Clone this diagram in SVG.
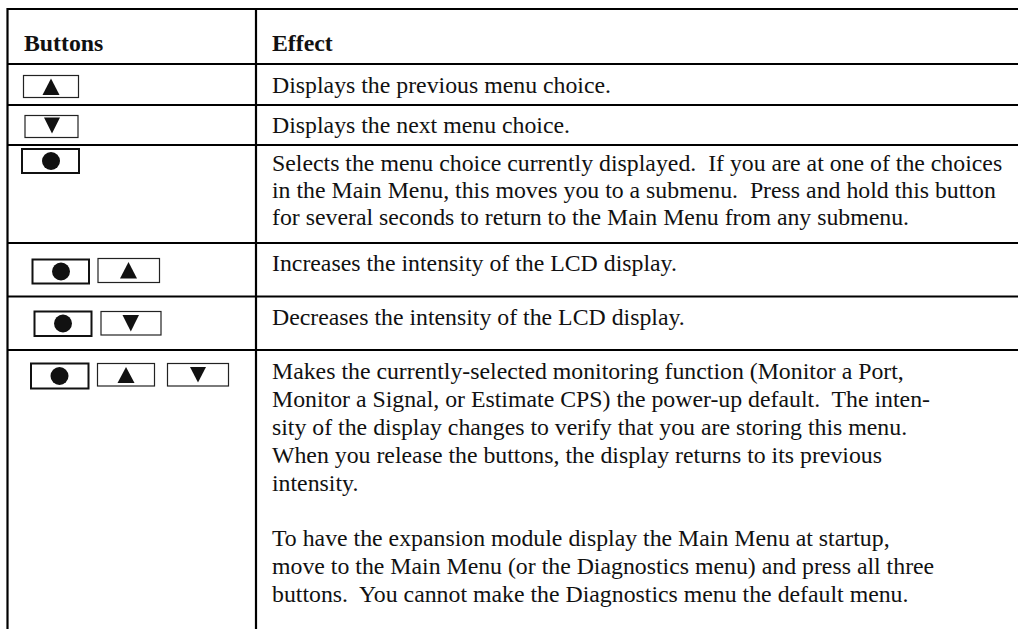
<svg xmlns="http://www.w3.org/2000/svg" width="1018" height="629" viewBox="0 0 1018 629">
<style>
.grid{stroke:#000;stroke-width:2.2;fill:none}
.btn{fill:#fff;stroke:#222;stroke-width:1.2}
.btnc{fill:#fff;stroke:#111;stroke-width:2}
.g{fill:#111}
text{font-family:"Liberation Serif","Times New Roman",serif;font-size:23.8px;fill:#111;white-space:pre}
.h{font-weight:bold}
</style>
<rect width="1018" height="629" fill="#fff"/>
<g id="connectors">
<line class="grid" x1="7.5" y1="9" x2="1018" y2="9"/>
<line class="grid" x1="7.5" y1="64" x2="1018" y2="64"/>
<line class="grid" x1="7.5" y1="105" x2="1018" y2="105"/>
<line class="grid" x1="7.5" y1="145" x2="1018" y2="145"/>
<line class="grid" x1="7.5" y1="243" x2="1018" y2="243"/>
<line class="grid" x1="7.5" y1="296.5" x2="1018" y2="296.5"/>
<line class="grid" x1="7.5" y1="350" x2="1018" y2="350"/>
<line class="grid" x1="7.5" y1="8" x2="7.5" y2="629"/>
<line class="grid" x1="256" y1="8" x2="256" y2="629"/>
</g>
<g id="header">
<text class="h" x="24" y="51">Buttons</text>
<text class="h" x="272" y="51">Effect</text>
</g>
<g id="row-up">
<rect class="btn" x="23.5" y="75.5" width="55" height="22"/>
<polygon class="g" points="51,78.5 59.5,95 42.5,95"/>
<text x="272" y="93">Displays the previous menu choice.</text>
</g>
<g id="row-down">
<rect class="btn" x="25" y="115.5" width="53" height="22"/>
<polygon class="g" points="44,117.5 60,117.5 52,133.5"/>
<text x="272" y="132.5">Displays the next menu choice.</text>
</g>
<g id="row-select">
<rect class="btnc" x="22" y="149" width="57" height="24"/>
<circle class="g" cx="51" cy="161" r="9"/>
<text x="272" y="171">Selects the menu choice currently displayed.  If you are at one of the choices</text>
<text x="272" y="198">in the Main Menu, this moves you to a submenu.  Press and hold this button</text>
<text x="272" y="225">for several seconds to return to the Main Menu from any submenu.</text>
</g>
<g id="row-increase">
<rect class="btnc" x="32.5" y="259.5" width="56.5" height="24"/>
<circle class="g" cx="61" cy="271.5" r="9"/>
<rect class="btn" x="98" y="258.5" width="61.5" height="24"/>
<polygon class="g" points="128.5,262 137,278.5 120,278.5"/>
<text x="272" y="271">Increases the intensity of the LCD display.</text>
</g>
<g id="row-decrease">
<rect class="btnc" x="34.5" y="311.5" width="57" height="24.5"/>
<circle class="g" cx="63" cy="323.5" r="9"/>
<rect class="btn" x="101" y="311.5" width="60" height="23.5"/>
<polygon class="g" points="122.5,315 139,315 130.8,331.5"/>
<text x="272" y="325">Decreases the intensity of the LCD display.</text>
</g>
<g id="row-default">
<rect class="btnc" x="31" y="363.5" width="57.5" height="25"/>
<circle class="g" cx="59.5" cy="376" r="9"/>
<rect class="btn" x="97.5" y="363.5" width="57" height="22.5"/>
<polygon class="g" points="126,367 134.5,383 117.5,383"/>
<rect class="btn" x="167.5" y="363.5" width="61" height="22.5"/>
<polygon class="g" points="190,367 206,367 198,382.5"/>
<text x="272" y="379">Makes the currently-selected monitoring function (Monitor a Port,</text>
<text x="272" y="407">Monitor a Signal, or Estimate CPS) the power-up default.  The inten-</text>
<text x="272" y="435">sity of the display changes to verify that you are storing this menu.</text>
<text x="272" y="463">When you release the buttons, the display returns to its previous</text>
<text x="272" y="491">intensity.</text>
<text x="272" y="546">To have the expansion module display the Main Menu at startup,</text>
<text x="272" y="574">move to the Main Menu (or the Diagnostics menu) and press all three</text>
<text x="272" y="602">buttons.  You cannot make the Diagnostics menu the default menu.</text>
</g>
</svg>
